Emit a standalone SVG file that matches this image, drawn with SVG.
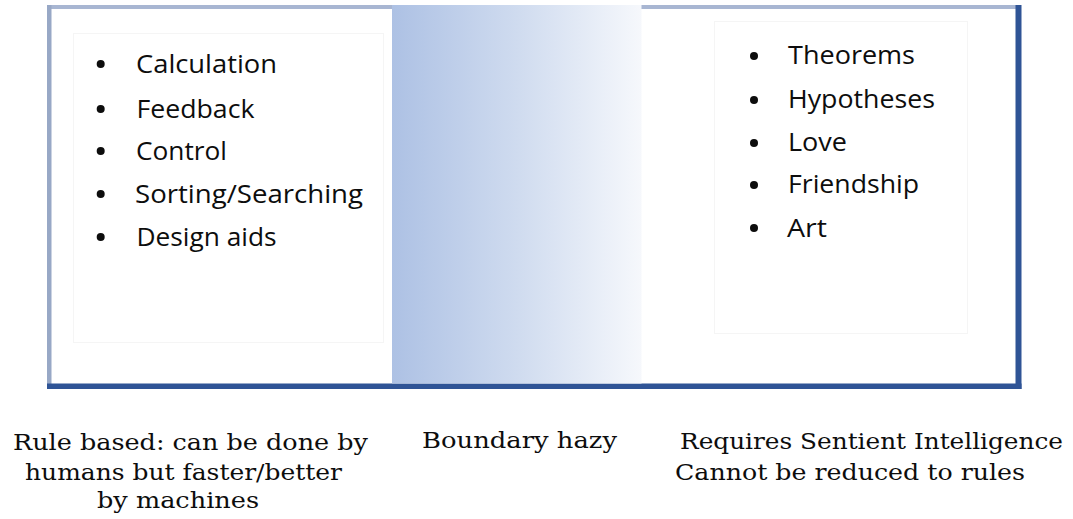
<svg xmlns="http://www.w3.org/2000/svg" width="1073" height="519" viewBox="0 0 1073 519">
  <defs>
    <linearGradient id="haze" x1="0" y1="0" x2="1" y2="0">
      <stop offset="0" stop-color="#adc1e4"/>
      <stop offset="0.5" stop-color="#cfdbef"/>
      <stop offset="1" stop-color="#f6f8fc"/>
    </linearGradient>
    <style>
      .item { font-family: "Open Sans", "Liberation Sans", sans-serif; font-size: 25px; fill: #0d0d0d; }
      .bullet { fill: #0d0d0d; }
      .caption { font-family: "DejaVu Serif", "Liberation Serif", serif; font-size: 23px; fill: #0d0d0d; }
      .inner { fill: none; stroke: #f5f5f5; stroke-width: 1; }
    </style>
  </defs>

  <rect width="1073" height="519" fill="#ffffff"/>

  <!-- outer frame -->
  <g id="frame">
    <rect x="47" y="5" width="972" height="4" fill="#a8b6d2"/>
    <rect x="47" y="5" width="4.5" height="384" fill="#98a8c6"/>
    <rect x="47" y="383.5" width="974.5" height="5.5" fill="#2f5496"/>
    <rect x="1015.5" y="5" width="6" height="384" fill="#2f5496"/>
  </g>

  <!-- middle band: fading boundary -->
  <g id="panel-haze">
    <rect x="392" y="5" width="249.5" height="378.5" fill="url(#haze)"/>
  </g>

  <!-- left list: rule based tasks -->
  <g id="panel-left">
    <rect class="inner" x="73.5" y="33.5" width="310" height="309"/>
    <circle class="bullet" cx="100.7" cy="64" r="4"/>
    <text class="item" x="136" y="73" textLength="141" lengthAdjust="spacingAndGlyphs">Calculation</text>
    <circle class="bullet" cx="100.7" cy="109" r="4"/>
    <text class="item" x="136.5" y="118" textLength="118" lengthAdjust="spacingAndGlyphs">Feedback</text>
    <circle class="bullet" cx="100.7" cy="151" r="4"/>
    <text class="item" x="136" y="160" textLength="91" lengthAdjust="spacingAndGlyphs">Control</text>
    <circle class="bullet" cx="100.7" cy="194" r="4"/>
    <text class="item" x="135" y="203" textLength="228" lengthAdjust="spacingAndGlyphs">Sorting/Searching</text>
    <circle class="bullet" cx="100.7" cy="237" r="4"/>
    <text class="item" x="136.5" y="246" textLength="140" lengthAdjust="spacingAndGlyphs">Design aids</text>
  </g>

  <!-- right list: sentient tasks -->
  <g id="panel-right">
    <rect class="inner" x="714.5" y="21.5" width="253" height="312"/>
    <circle class="bullet" cx="754" cy="56" r="4"/>
    <text class="item" x="788" y="64" textLength="127" lengthAdjust="spacingAndGlyphs">Theorems</text>
    <circle class="bullet" cx="754" cy="100" r="4"/>
    <text class="item" x="788" y="108" textLength="147" lengthAdjust="spacingAndGlyphs">Hypotheses</text>
    <circle class="bullet" cx="754" cy="143" r="4"/>
    <text class="item" x="788" y="151" textLength="59" lengthAdjust="spacingAndGlyphs">Love</text>
    <circle class="bullet" cx="754" cy="185" r="4"/>
    <text class="item" x="788" y="193" textLength="131" lengthAdjust="spacingAndGlyphs">Friendship</text>
    <circle class="bullet" cx="754" cy="228" r="4"/>
    <text class="item" x="787" y="237" textLength="40" lengthAdjust="spacingAndGlyphs">Art</text>
  </g>

  <!-- captions under each band -->
  <g id="captions">
    <text class="caption" x="13" y="450" textLength="355" lengthAdjust="spacingAndGlyphs">Rule based: can be done by</text>
    <text class="caption" x="25" y="480" textLength="317" lengthAdjust="spacingAndGlyphs">humans but faster/better</text>
    <text class="caption" x="97" y="508" textLength="162" lengthAdjust="spacingAndGlyphs">by machines</text>
    <text class="caption" x="422" y="448" textLength="195" lengthAdjust="spacingAndGlyphs">Boundary hazy</text>
    <text class="caption" x="680" y="449" textLength="383" lengthAdjust="spacingAndGlyphs">Requires Sentient Intelligence</text>
    <text class="caption" x="675" y="480" textLength="350" lengthAdjust="spacingAndGlyphs">Cannot be reduced to rules</text>
  </g>
</svg>
